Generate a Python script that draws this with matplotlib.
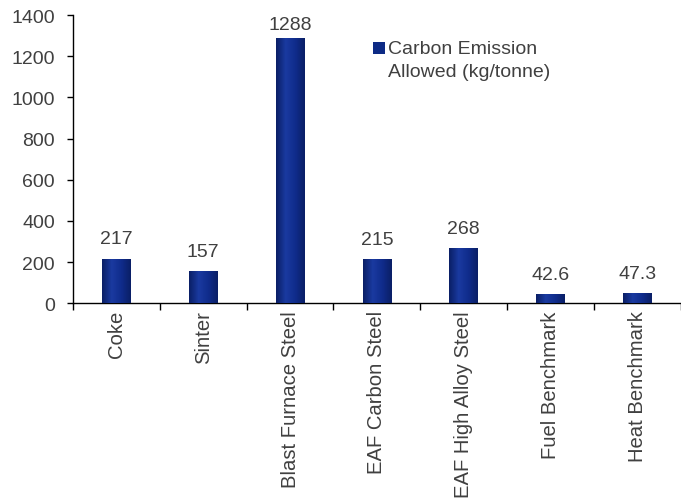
import matplotlib
matplotlib.use("Agg")
import matplotlib.pyplot as plt
import numpy as np
from matplotlib.colors import LinearSegmentedColormap
from matplotlib.patches import Rectangle

categories = ["Coke", "Sinter", "Blast Furnace Steel", "EAF Carbon Steel",
              "EAF High Alloy Steel", "Fuel Benchmark", "Heat Benchmark"]
values = [217, 157, 1288, 215, 268, 42.6, 47.3]
value_labels = ["217", "157", "1288", "215", "268", "42.6", "47.3"]
yticks = [0, 200, 400, 600, 800, 1000, 1200, 1400]
series_name = "Carbon Emission\nAllowed (kg/tonne)"

plt.rcParams['font.family'] = ['Liberation Sans', 'DejaVu Sans']
txt_color = "#404040"
bar_color = "#0d2a85"
fs = 14
W, H = 681, 502

fig = plt.figure(figsize=(6.81, 5.02), dpi=100)
ax = fig.add_axes([0.107, 0.394, 0.893, 0.574])

x = np.arange(len(categories))
bars = ax.bar(x, values, width=0.33, color=bar_color, zorder=2)

cmap = LinearSegmentedColormap.from_list("g", ["#0a1f66", "#1a3aa0", "#102c8c", "#0a1f66"])
grad = np.linspace(0, 1, 64).reshape(1, -1)
for b in bars:
    x0, y0 = b.get_x(), b.get_y()
    w, h = b.get_width(), b.get_height()
    im = ax.imshow(grad, cmap=cmap, extent=[x0, x0 + w, y0, y0 + h],
                   aspect="auto", zorder=3)
    im.set_clip_path(b)

for xi, v, lab in zip(x, values, value_labels):
    off = 8 if v < 1000 else 4
    ax.annotate(lab, (xi, v), xytext=(0, off), textcoords="offset points",
                ha="center", va="bottom", fontsize=fs, color=txt_color)

ax.set_xlim(-0.5, len(categories) - 0.5)
ax.set_ylim(0, 1400)
ax.set_yticks(yticks)
ax.set_yticklabels([str(t) for t in yticks], fontsize=fs, color=txt_color)
ax.set_xticks(x)
ax.set_xticklabels(categories, rotation=90, fontsize=14.6, color=txt_color)
ax.tick_params(axis="x", length=0, pad=5)
ax.set_xticks(np.arange(len(categories) + 1) - 0.5, minor=True)
ax.tick_params(axis="x", which="minor", length=5, direction="out", width=1)
ax.tick_params(axis="y", length=4, direction="out", width=1, pad=9)
for s in ["top", "right"]:
    ax.spines[s].set_visible(False)
ax.spines["left"].set_linewidth(1)
ax.spines["bottom"].set_linewidth(1)

# legend (drawn manually so the swatch sits on the first text line)
fig.patches.append(Rectangle((373 / W, 1 - 55 / H), 12 / W, 12 / H,
                             transform=fig.transFigure, facecolor=bar_color,
                             edgecolor="none"))
fig.text(388 / W, 1 - 41 / H, series_name, ha="left", va="top",
         fontsize=fs, color=txt_color, linespacing=1.45)

fig.savefig("out.png", dpi=100)
